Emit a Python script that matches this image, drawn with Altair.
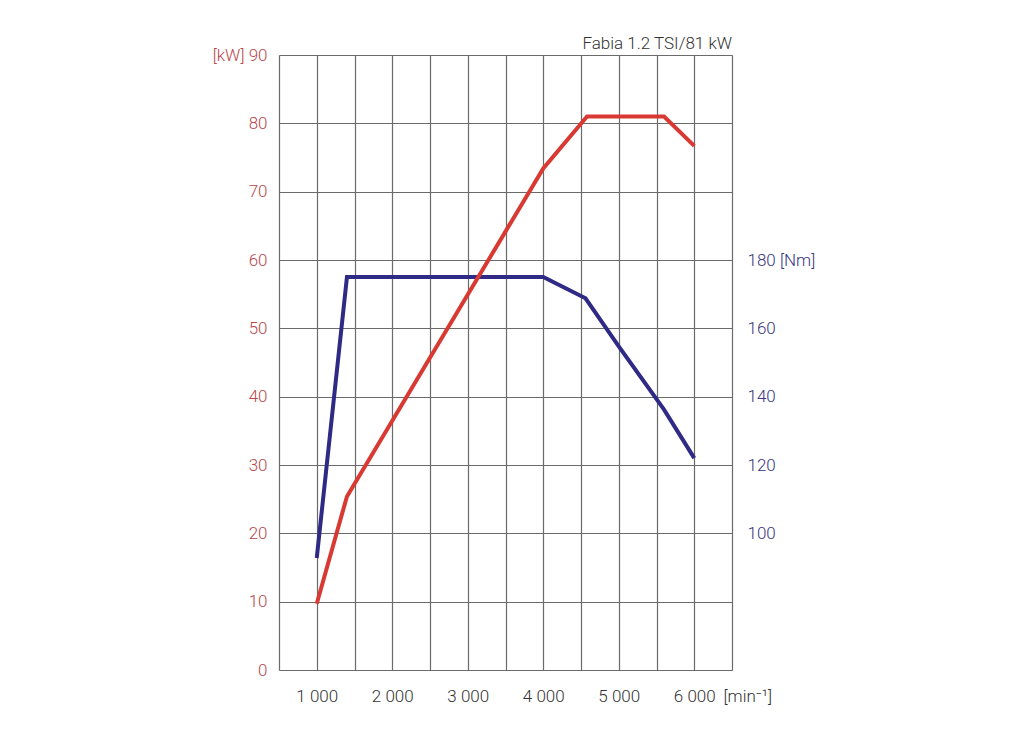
import altair as alt
import pandas as pd

# Power curve (kW) vs engine speed (rpm)
rpm_power = [1000, 1400, 4000, 4580, 5600, 6000]
power_kw = [9.7, 25.4, 73.4, 81.0, 81.0, 76.7]

# Torque curve (Nm) vs engine speed (rpm)
rpm_torque = [1000, 1400, 4000, 4560, 5000, 5600, 6000]
torque_nm = [92.8, 175, 175, 168.8, 154.7, 136.2, 122]

x_grid_values = [500, 1000, 1500, 2000, 2500, 3000, 3500, 4000, 4500, 5000, 5500, 6000, 6500]
kw_ticks = [0, 10, 20, 30, 40, 50, 60, 70, 80, 90]
nm_ticks = [100, 120, 140, 160, 180]
title_text = "Fabia 1.2 TSI/81 kW"

power_df = pd.DataFrame({"rpm": rpm_power, "kw": power_kw})
torque_df = pd.DataFrame({"rpm": rpm_torque, "nm": torque_nm})

FONT = "Roboto"
RED = "#d83a33"
BLUE = "#2f2a86"
GRID = "#6a6a6a"

x_enc = alt.X(
    "rpm:Q",
    scale=alt.Scale(domain=[500, 6500], nice=False, zero=False),
    axis=alt.Axis(
        values=x_grid_values,
        labelExpr="(datum.value % 1000 == 0 && datum.value >= 1000 && datum.value <= 6000) ? replace(format(datum.value, ','), ',', ' ') : ''",
        grid=True, gridColor=GRID, gridWidth=1.2, gridOpacity=1,
        domain=False, ticks=False,
        labelFont=FONT, labelFontSize=17, labelFontWeight=300, labelColor="#333333",
        labelPadding=18,
        title="[min⁻¹]", titleFont=FONT, titleFontSize=17, titleFontWeight=300,
        titleColor="#333333", titleAlign="left", titleAnchor="start",
        titleX=444, titleY=18, titleBaseline="top",
    ),
)

torque = alt.Chart(torque_df).mark_line(color=BLUE, strokeWidth=4, strokeJoin="miter").encode(
    x=x_enc,
    y=alt.Y(
        "nm:Q",
        scale=alt.Scale(domain=[60, 240], nice=False, zero=False),
        axis=alt.Axis(
            orient="right", values=nm_ticks, grid=False, domain=False, ticks=False,
            labelExpr="datum.value == 180 ? '180 [Nm]' : datum.label",
            labelFont=FONT, labelFontSize=17, labelFontWeight=300, labelColor="#37357d",
            labelPadding=15, title=None,
        ),
    ),
)

power = alt.Chart(power_df).mark_line(color=RED, strokeWidth=4, strokeJoin="miter").encode(
    x=x_enc,
    y=alt.Y(
        "kw:Q",
        scale=alt.Scale(domain=[0, 90], nice=False),
        axis=alt.Axis(
            orient="left", values=kw_ticks, grid=True, gridColor=GRID, gridWidth=1.2, gridOpacity=1,
            domain=False, ticks=False,
            labelExpr="datum.value == 90 ? '[kW] 90' : datum.label",
            labelFont=FONT, labelFontSize=17, labelFontWeight=300, labelColor="#b9474c",
            labelPadding=12, title=None,
        ),
    ),
)

chart = (
    alt.layer(torque, power)
    .resolve_scale(y="independent")
    .properties(
        width=453,
        height=615,
        title=alt.TitleParams(
            text=title_text, anchor="end", frame="group", font=FONT, fontSize=17, fontWeight=300,
            color="#333333", offset=-7,
        ),
        autosize=alt.AutoSizeParams(type="none"),
        padding={"left": 271, "top": 47, "right": 260, "bottom": 60},
    )
    .configure_view(stroke=GRID, strokeWidth=1.2)
    .configure(background="white")
)

chart.save("out.html", embed_options={"renderer": "svg", "actions": False})
